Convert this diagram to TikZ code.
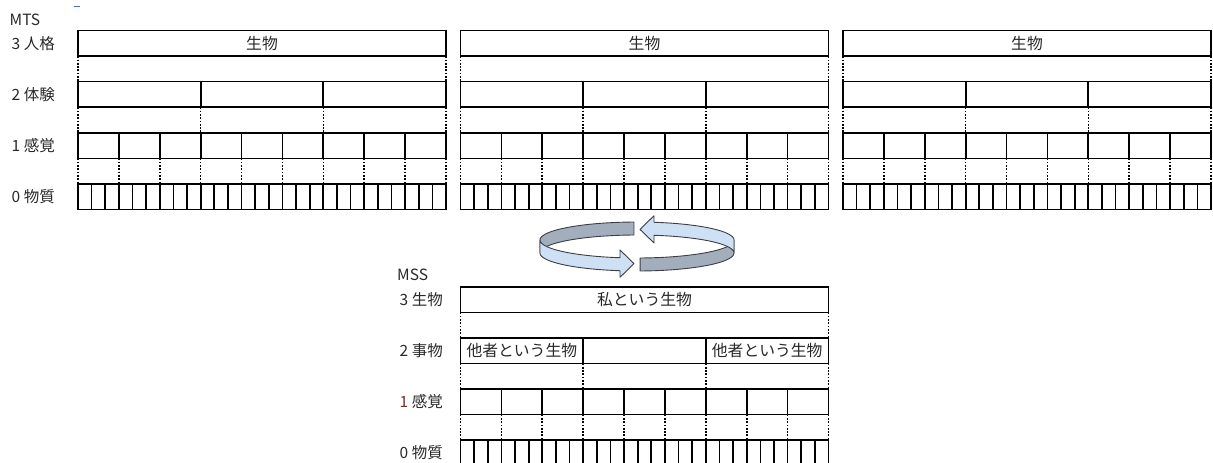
\documentclass[tikz,border=0pt]{standalone}
\usepackage{fontspec}
\setmainfont{Noto Sans CJK JP}
\definecolor{txt}{RGB}{40,40,40}
\definecolor{onered}{RGB}{115,45,45}
\definecolor{ringlight}{RGB}{206,224,243}
\definecolor{ringdark}{RGB}{163,174,189}
\definecolor{ringline}{RGB}{60,62,70}
\definecolor{stray}{RGB}{70,110,190}
\tikzset{
  box/.style={draw=black, line width=1.7pt},
  dotline/.style={draw=black, line width=1.6pt, dash pattern=on 1.7pt off 1.6pt},
  lbl/.style={anchor=west, inner sep=0pt, text=txt, font=\fontsize{15.5pt}{16pt}\selectfont},
  intext/.style={inner sep=0pt, text=txt, font=\fontsize{15.8pt}{16pt}\selectfont},
  ringpartlight/.style={fill=ringlight, draw=ringline, line width=0.9pt, line join=round},
  ringpartdark/.style={fill=ringdark, draw=ringline, line width=0.9pt, line join=round}
}
% one stack of four levels; local origin = top-left corner
\newcommand{\levelstack}[1]{%
  \begin{scope}[shift={#1}]
    % level 3
    \draw[box] (0,0) rectangle (368,25.7);
    \foreach \i in {0,1} \draw[dotline] (368*\i,25.7) -- (368*\i,51.1);
    % level 2
    \draw[box] (0,51.1) rectangle (368,76.8);
    \foreach \i in {1,2} \draw[box] (368*\i/3,51.1) -- (368*\i/3,76.8);
    \foreach \i in {0,...,3} \draw[dotline] (368*\i/3,76.8) -- (368*\i/3,102.2);
    % level 1
    \draw[box] (0,102.2) rectangle (368,127.9);
    \foreach \i in {1,...,8} \draw[box] (368*\i/9,102.2) -- (368*\i/9,127.9);
    \foreach \i in {0,...,9} \draw[dotline] (368*\i/9,127.9) -- (368*\i/9,153.3);
    % level 0
    \draw[box] (0,153.3) rectangle (368,179.0);
    \foreach \i in {1,...,26} \draw[box] (368*\i/27,153.3) -- (368*\i/27,179.0);
  \end{scope}}

\begin{document}
\begin{tikzpicture}[x=1pt,y=-1pt]
\useasboundingbox (0,0) rectangle (1213,463);

% stray mark
\draw[stray, line width=0.9pt] (74,6) -- (80,6);

% ---------- MTS ----------
\node[lbl, font=\fontsize{15.5pt}{16pt}\selectfont] (mts) at (9.5,20) {MTS};
\node[lbl] (m3) at (11.5,43.4) {3 人格};
\node[lbl] (m2) at (11.5,94.5) {2 体験};
\node[lbl] (m1) at (11.5,145.6) {1 感覚};
\node[lbl] (m0) at (11.5,196.7) {0 物質};

\levelstack{(78,30.5)}
\node[intext] (p1) at (262,43.35) {生物};
\levelstack{(460.5,30.5)}
\node[intext] (p2) at (644.5,43.35) {生物};
\levelstack{(843,30.5)}
\node[intext] (p3) at (1027,43.35) {生物};

% ---------- cycle arrows ----------
\filldraw[ringpartdark]
  plot[domain=91.8:180, samples=40, variable=\t] ({637+97*cos(\t)},{240-18*sin(\t)})
  -- plot[domain=180:91.8, samples=40, variable=\t] ({637+97*cos(\t)},{253-18*sin(\t)})
  -- cycle;
\begin{scope}[rotate around={180:(637,246.5)}]
\filldraw[ringpartdark]
  plot[domain=91.8:180, samples=40, variable=\t] ({637+97*cos(\t)},{240-18*sin(\t)})
  -- plot[domain=180:91.8, samples=40, variable=\t] ({637+97*cos(\t)},{253-18*sin(\t)})
  -- cycle;
\end{scope}
\filldraw[ringpartlight]
  plot[domain=180:259.9, samples=40, variable=\t] ({637+97*cos(\t)},{240-18*sin(\t)})
  -- (620,250) -- (634,263.6) -- (620,277.3)
  -- plot[domain=259.9:180, samples=40, variable=\t] ({637+97*cos(\t)},{253-18*sin(\t)})
  -- cycle;
\begin{scope}[rotate around={180:(637,246.5)}]
\filldraw[ringpartlight]
  plot[domain=180:259.9, samples=40, variable=\t] ({637+97*cos(\t)},{240-18*sin(\t)})
  -- (620,250) -- (634,263.6) -- (620,277.3)
  -- plot[domain=259.9:180, samples=40, variable=\t] ({637+97*cos(\t)},{253-18*sin(\t)})
  -- cycle;
\end{scope}

% ---------- MSS ----------
\node[lbl, font=\fontsize{15.5pt}{16pt}\selectfont] (mss) at (397,275) {MSS};
\node[lbl] (s3) at (399.5,299.6) {3 生物};
\node[lbl] (s2) at (399.5,350.7) {2 事物};
\node[lbl] (s1) at (399.5,401.8) {\textcolor{onered}{1} 感覚};
\node[lbl] (s0) at (399.5,452.9) {0 物質};

\levelstack{(460.5,286.7)}
\node[intext] (i3) at (644.5,299.55) {私という生物};
\node[intext] (i2a) at (521.8,350.65) {他者という生物};
\node[intext] (i2b) at (767.2,350.65) {他者という生物};
\end{tikzpicture}
\end{document}
